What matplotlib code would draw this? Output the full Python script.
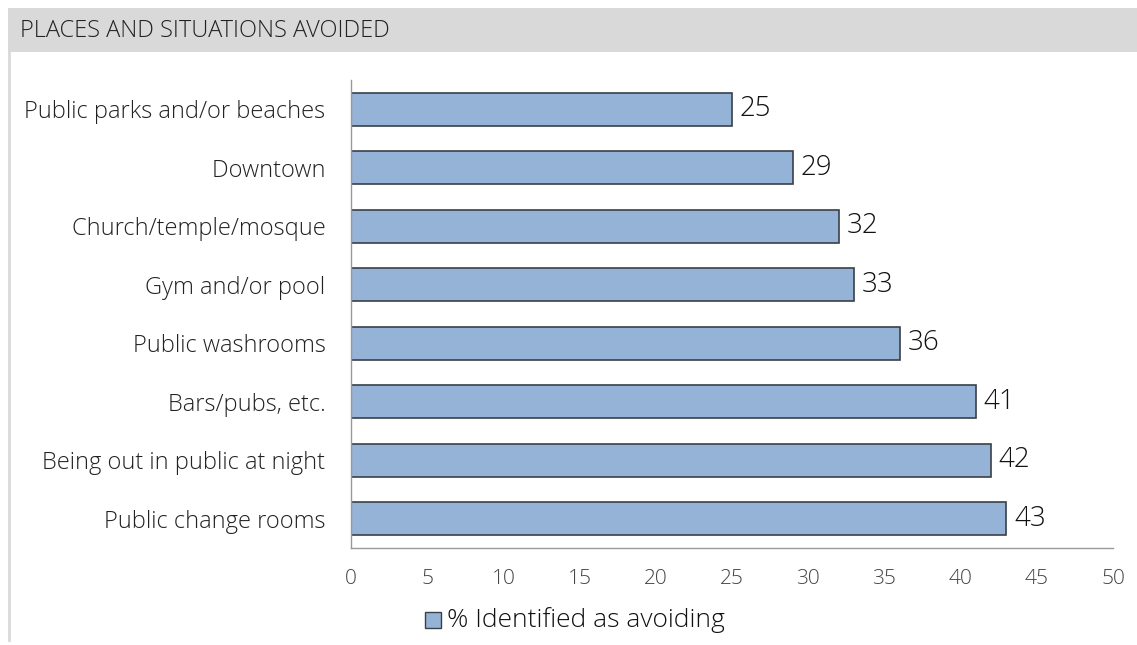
import matplotlib
matplotlib.use("Agg")
import matplotlib.pyplot as plt
from matplotlib.patches import Rectangle
from matplotlib.lines import Line2D

categories = [
    "Public parks and/or beaches",
    "Downtown",
    "Church/temple/mosque",
    "Gym and/or pool",
    "Public washrooms",
    "Bars/pubs, etc.",
    "Being out in public at night",
    "Public change rooms",
]
values = [25, 29, 32, 33, 36, 41, 42, 43]
x_ticks = [0, 5, 10, 15, 20, 25, 30, 35, 40, 45, 50]
title = "PLACES AND SITUATIONS AVOIDED"
legend_label = "% Identified as avoiding"

bar_color = "#95b3d7"
edge_color = "#3a3f48"
thin = ["Open Sans", "DejaVu Sans"]

W, H = 1137, 645
fig = plt.figure(figsize=(W / 100, H / 100), dpi=100)
fig.patch.set_facecolor("white")

# header band and left frame line
fig.add_artist(Rectangle((8 / W, 1 - 52 / H), 1, 44 / H, transform=fig.transFigure,
                         facecolor="#d9d9d9", edgecolor="none", zorder=0))
fig.add_artist(Line2D([8.5 / W, 8.5 / W], [1 - 52 / H, 1 - 640 / H], transform=fig.transFigure,
                      color="#d9d9d9", lw=2))
fig.text(20 / W, 1 - 31 / H, title, ha="left", va="center", fontsize=17,
         family=thin, fontweight=300, color="#222222")

ax = fig.add_axes([351 / W, 1 - 548 / H, (1113 - 351) / W, (548 - 80) / H])
ypos = list(range(len(categories)))
ax.barh(ypos, values, height=0.57, color=bar_color, edgecolor=edge_color, linewidth=1.2)
ax.set_ylim(len(categories) - 0.5, -0.5)
ax.set_xlim(0, 50)
ax.set_xticks(x_ticks)
ax.set_xticklabels([str(t) for t in x_ticks], family=thin,
                   fontweight=300, fontsize=15, color="#444444")
ax.set_yticks(ypos)
ax.set_yticklabels([c + " " for c in categories], family=thin, fontweight=300,
                   fontsize=17, color="#222222")
ax.tick_params(axis="x", length=0, pad=15)
ax.tick_params(axis="y", length=0, pad=14)
for s in ["top", "right"]:
    ax.spines[s].set_visible(False)
ax.spines["left"].set_color("#999999")
ax.spines["bottom"].set_color("#999999")
ax.spines["left"].set_linewidth(1)
ax.spines["bottom"].set_linewidth(1)

for y, v in zip(ypos, values):
    ax.text(v + 0.5, y, str(v), va="center", ha="left", fontsize=20,
            family=thin, fontweight=300, color="#111111")

# legend below the axis
fig.add_artist(Rectangle((425 / W, 1 - 628 / H), 16 / W, 16 / H, transform=fig.transFigure,
                         facecolor=bar_color, edgecolor=edge_color, lw=1))
fig.text(447 / W, 1 - 620 / H, legend_label, ha="left", va="center", fontsize=19,
         family=thin, fontweight=300, color="#111111")

fig.savefig("out.png", dpi=100)
